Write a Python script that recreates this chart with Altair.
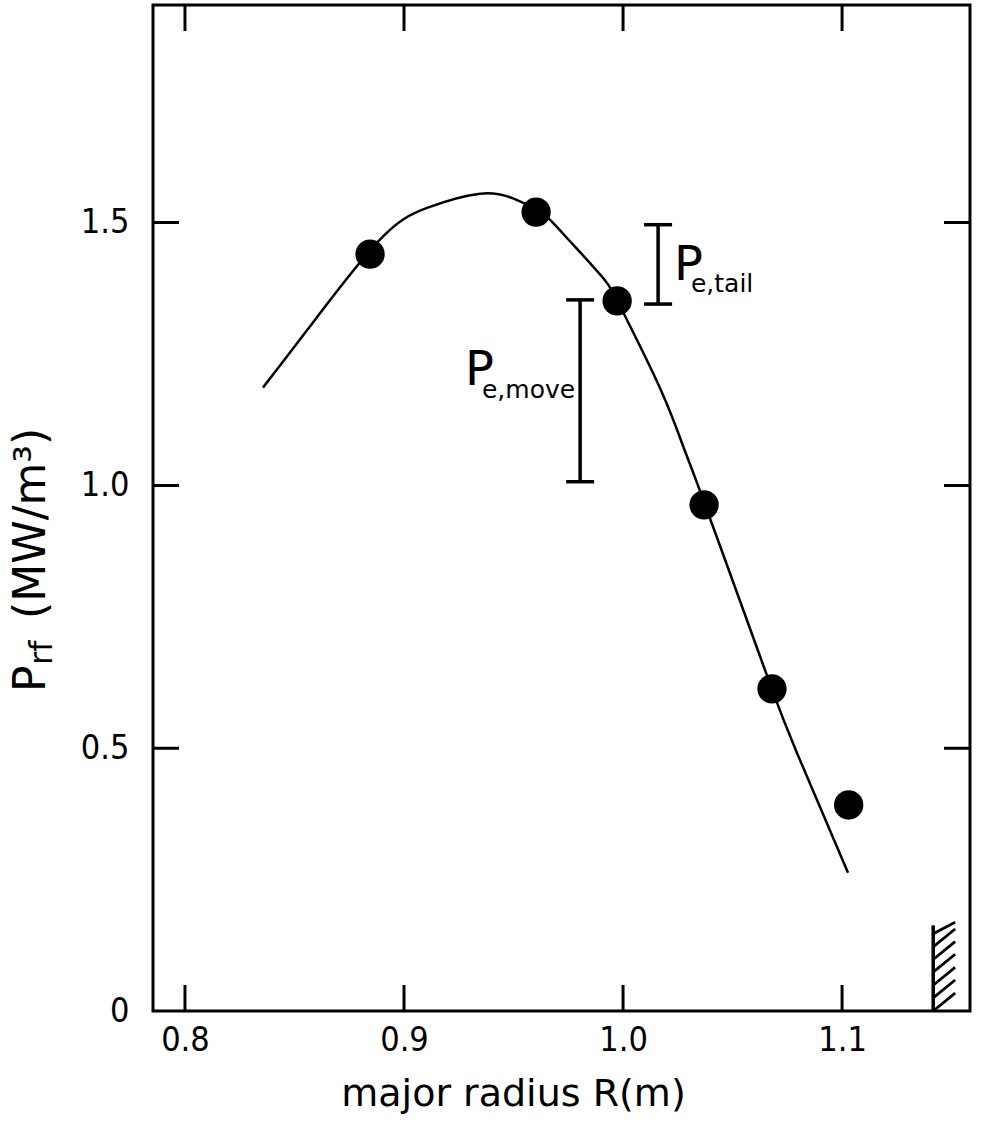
import altair as alt
import pandas as pd

# measured data points
pts_R = [0.8845, 0.9603, 0.9973, 1.037, 1.068, 1.103]
pts_P = [1.44, 1.52, 1.351, 0.963, 0.613, 0.392]

# fitted curve
curve_R = [0.8356, 0.8557, 0.8877, 0.9105, 0.9347, 0.9498, 0.9603, 0.9667, 0.9772,
           0.9918, 1.0, 1.0169, 1.0274, 1.0342, 1.0534, 1.068, 1.0795, 1.1027]
curve_P = [1.186, 1.295, 1.462, 1.528, 1.555, 1.546, 1.525, 1.505, 1.458,
           1.39, 1.33, 1.185, 1.075, 1.0, 0.78, 0.612, 0.49, 0.263]

# bars
bar_name = ["tail", "move"]
bar_R = [1.016, 0.9804]
bar_lo = [1.345, 1.007]
bar_hi = [1.496, 1.353]

# labels
lab_P_text = ["P", "P"]
lab_P_R = [1.0233, 0.9279]
lab_P_P = [1.391, 1.191]
lab_sub_text = ["e,tail", "e,move"]
lab_sub_R = [1.0310, 0.9356]
lab_sub_P = [1.368, 1.166]

# wall (hatched)
wall_R0 = 1.1416
wall_R1 = 1.1516
wall_top = 0.163
hatch_lo = [0.0, 0.025, 0.049, 0.074, 0.098, 0.122, 0.147]
hatch_rise = [0.034, 0.034, 0.034, 0.034, 0.034, 0.034, 0.022]

x_ticks = [0.8, 0.9, 1.0, 1.1]
y_ticks = [0.5, 1.0, 1.5]
y_labels = [0, 0.5, 1.0, 1.5]

W, H = 817, 1006
xdom = [0.7854, 1.1584]
ydom = [0, 1.914]

xs = alt.Scale(domain=xdom, nice=False, zero=False)
ys = alt.Scale(domain=ydom, nice=False, zero=False)

TICKFONT = "DejaVu Sans Condensed"
FONT = "DejaVu Sans"

pts = pd.DataFrame({"R": pts_R, "P": pts_P})
curve = pd.DataFrame({"R": curve_R, "P": curve_P})
bars = pd.DataFrame({"name": bar_name, "R": bar_R, "lo": bar_lo, "hi": bar_hi})
caps = pd.DataFrame({"R": bar_R + bar_R, "P": bar_lo + bar_hi})
labP = pd.DataFrame({"t": lab_P_text, "R": lab_P_R, "P": lab_P_P})
labS = pd.DataFrame({"t": lab_sub_text, "R": lab_sub_R, "P": lab_sub_P})
wall = pd.DataFrame({"R": [wall_R0], "lo": [0.0], "hi": [wall_top]})
hatch = pd.DataFrame({"R0": [wall_R0] * len(hatch_lo), "R1": [wall_R1] * len(hatch_lo),
                      "P0": hatch_lo, "P1": [a + b for a, b in zip(hatch_lo, hatch_rise)]})
xt = pd.DataFrame({"R": x_ticks})
yt = pd.DataFrame({"P": y_ticks})

base_x = alt.X("R:Q", scale=xs,
               axis=alt.Axis(values=x_ticks, domain=False, ticks=False, grid=False,
                             labelExpr="format(datum.value, '.1f')",
                             labelFont=TICKFONT, labelFontSize=34, labelColor="black",
                             labelPadding=12, title="major radius R(m)",
                             titleFont=FONT, titleFontSize=38, titleFontWeight="normal",
                             titleColor="black", titleX=360, titleY=94,
                             titleBaseline="alphabetic", titleAlign="center"))
base_y = alt.Y("P:Q", scale=ys,
               axis=alt.Axis(values=y_labels, domain=False, ticks=False, grid=False,
                             labelExpr="datum.value == 0 ? '0' : format(datum.value, '.1f')",
                             labelFont=TICKFONT, labelFontSize=34, labelColor="black",
                             labelPadding=24, title=None))

line = alt.Chart(curve).mark_line(color="black", strokeWidth=2.5, interpolate="natural").encode(
    x=base_x, y=base_y, order="R:Q")
dots = alt.Chart(pts).mark_circle(color="black", opacity=1, size=860).encode(
    x=alt.X("R:Q", scale=xs), y=alt.Y("P:Q", scale=ys))
bar_rules = alt.Chart(bars).mark_rule(color="black", strokeWidth=3.5).encode(
    x=alt.X("R:Q", scale=xs), y=alt.Y("lo:Q", scale=ys), y2="hi:Q")
bar_caps = alt.Chart(caps).mark_tick(color="black", opacity=1, orient="horizontal", size=28,
                                     thickness=3.5).encode(
    x=alt.X("R:Q", scale=xs), y=alt.Y("P:Q", scale=ys))
tP = alt.Chart(labP).mark_text(font=FONT, fontSize=48, align="left", baseline="alphabetic",
                               color="black").encode(
    x=alt.X("R:Q", scale=xs), y=alt.Y("P:Q", scale=ys), text="t:N")
tS = alt.Chart(labS).mark_text(font=FONT, fontSize=25, align="left", baseline="alphabetic",
                               color="black").encode(
    x=alt.X("R:Q", scale=xs), y=alt.Y("P:Q", scale=ys), text="t:N")
wall_line = alt.Chart(wall).mark_rule(color="black", strokeWidth=3.5).encode(
    x=alt.X("R:Q", scale=xs), y=alt.Y("lo:Q", scale=ys), y2="hi:Q")
hatch_lines = alt.Chart(hatch).mark_rule(color="black", strokeWidth=2.8).encode(
    x=alt.X("R0:Q", scale=xs), x2="R1:Q", y=alt.Y("P0:Q", scale=ys), y2="P1:Q")

tick_kw = dict(color="black", opacity=1, size=52, thickness=3, clip=True)
tick_bot = alt.Chart(xt).mark_tick(orient="vertical", **tick_kw).encode(
    x=alt.X("R:Q", scale=xs), y=alt.value(H))
tick_top = alt.Chart(xt).mark_tick(orient="vertical", **tick_kw).encode(
    x=alt.X("R:Q", scale=xs), y=alt.value(0))
tick_left = alt.Chart(yt).mark_tick(orient="horizontal", **tick_kw).encode(
    y=alt.Y("P:Q", scale=ys), x=alt.value(0))
tick_right = alt.Chart(yt).mark_tick(orient="horizontal", **tick_kw).encode(
    y=alt.Y("P:Q", scale=ys), x=alt.value(W))

# y-axis title with subscript, as rotated text pieces
yt_main = pd.DataFrame({"t": ["P", "(MW/m³)"], "yy": [687, 614]})
yt_sub = pd.DataFrame({"t": ["rf"], "yy": [660]})
ytitle_main = alt.Chart(yt_main).mark_text(font=FONT, fontSize=44, angle=270, align="left",
                                           baseline="middle", color="black").encode(
    x=alt.value(-121), y=alt.Y("yy:Q", scale=None), text="t:N")
ytitle_sub = alt.Chart(yt_sub).mark_text(font=FONT, fontSize=32, angle=270, align="left",
                                         baseline="middle", color="black").encode(
    x=alt.value(-111), y=alt.Y("yy:Q", scale=None), text="t:N")

chart = alt.layer(line, dots, bar_rules, bar_caps, tP, tS, wall_line, hatch_lines,
                  tick_bot, tick_top, tick_left, tick_right, ytitle_main, ytitle_sub).properties(
    width=W, height=H,
    background="white",
    autosize=alt.AutoSizeParams(type="none"),
    padding={"left": 153, "top": 5, "right": 15, "bottom": 120},
).configure_view(stroke="black", strokeWidth=3)

chart.save("out.html", embed_options={"renderer": "svg", "actions": False})
